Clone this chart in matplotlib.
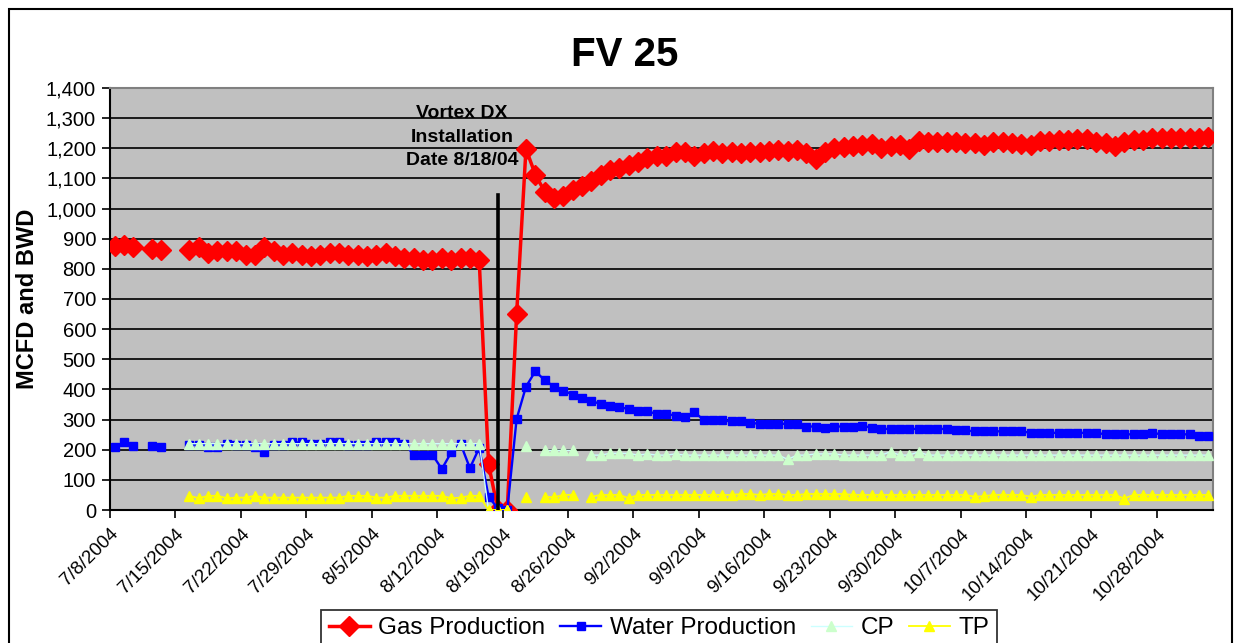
import matplotlib
matplotlib.use("Agg")
import matplotlib.pyplot as plt
import matplotlib.patches as mpatches
import numpy as np
import pandas as pd

plt.rcParams['font.family'] = ['Liberation Sans', 'DejaVu Sans']

N = None
start_date = "2004-07-08"
n_days = 118

gas = [877, 880, 874, N, 865, 863, N, N,
       861, 872, 854, 858, 858, 858, 847, 847, 872, 858, 847, 852, 847, 841, 847, 852,
       852, 847, 847, 841, 847, 852, 841, 836, 836, 830, 830, 836, 830, 836, 836, 828,
       152, 0, 0, 649, 1198, 1113, 1056, 1036, 1041, 1060, 1074, 1093, 1113, 1129, 1134,
       1145, 1154, 1167, 1173, 1176, 1187, 1187, 1173, 1184, 1191, 1184, 1187, 1184, 1189,
       1187, 1191, 1195, 1191, 1195, 1184, 1165, 1187, 1200, 1205,
       1206, 1212, 1214, 1201, 1206, 1212, 1198, 1223, 1220, 1220, 1220, 1220, 1217, 1217,
       1212, 1220, 1220, 1217, 1214, 1212, 1223, 1223, 1226, 1228, 1231, 1231, 1220, 1217,
       1209, 1220, 1228, 1226, 1234, 1234, 1234, 1234, 1234, 1234, 1237]

water = [209, 224, 213, N, 213, 209, N, N,
         217, 217, 209, 209, 220, 217, 217, 209, 191, 217, 217, 224, 224, 220, 220, 224,
         224, 217, 217, 217, 224, 224, 224, 220, 183, 183, 183, 136, 191, 220, 139, 206,
         44, 5, 0, 302, 409, 460, 431, 409, 396, 383, 371, 361, 352, 344, 341,
         335, 327, 327, 319, 319, 313, 310, 324, 300, 300, 297, 294, 294, 289,
         286, 286, 286, 286, 286, 277, 277, 272, 277, 277,
         276, 280, 272, 269, 269, 269, 269, 269, 269, 269, 269, 264, 264, 261,
         261, 261, 261, 261, 261, 256, 256, 256, 256, 256, 256, 256, 256, 251,
         251, 251, 251, 251, 256, 251, 251, 251, 251, 247, 247]

cp = [N, N, N, N, N, N, N, N,
      220, 220, 220, 220, 220, 220, 220, 220, 220, 220, 220, 220, 220, 220, 220, 220,
      220, 220, 220, 220, 220, 220, 220, 220, 220, 220, 220, 220, 220, 220, 220, 220,
      0, 0, 0, N, 211, N, 198, 198, 198, 198, N, 182, 182, 188, 188,
      188, 182, 186, 182, 182, 186, 182, 182, 182, 182, 182, 182, 182, 182,
      182, 182, 182, 168, 182, 182, 186, 186, 186, 182,
      182, 182, 182, 182, 193, 182, 182, 193, 182, 182, 182, 182, 182, 182,
      182, 182, 182, 182, 182, 182, 182, 182, 182, 182, 182, 182, 182, 182,
      182, 182, 182, 182, 182, 182, 182, 182, 182, 182, 182]

tp = [N, N, N, N, N, N, N, N,
      47, 39, 47, 47, 39, 41, 41, 47, 41, 41, 41, 41, 41, 41, 41, 41,
      41, 47, 47, 47, 41, 41, 47, 47, 47, 47, 47, 47, 39, 41, 47, 47,
      0, 0, 0, N, 44, N, 44, 42, 50, 50, N, 44, 50, 50, 50,
      39, 50, 50, 50, 50, 50, 50, 50, 50, 50, 50, 50, 53, 53,
      50, 53, 53, 50, 50, 53, 53, 53, 53, 53,
      50, 50, 50, 50, 50, 50, 50, 50, 50, 50, 50, 50, 50, 44,
      46, 50, 50, 50, 50, 44, 50, 50, 50, 50, 50, 50, 50, 50,
      50, 38, 50, 50, 50, 50, 50, 50, 50, 50, 50]

tick_labels = ["7/8/2004", "7/15/2004", "7/22/2004", "7/29/2004", "8/5/2004",
               "8/12/2004", "8/19/2004", "8/26/2004", "9/2/2004", "9/9/2004",
               "9/16/2004", "9/23/2004", "9/30/2004", "10/7/2004", "10/14/2004",
               "10/21/2004", "10/28/2004"]
y_ticks = [0, 100, 200, 300, 400, 500, 600, 700, 800, 900, 1000, 1100, 1200, 1300, 1400]
install_date = "2004-08-18"
install_line_top = 1045

title = "FV 25"
ylabel = "MCFD and BWD"
annotation = "Vortex DX\nInstallation\nDate 8/18/04"

def arr(v):
    return np.array([np.nan if a is None else a for a in v], dtype=float)

dates = pd.date_range(start_date, periods=n_days, freq="D")
xpts = dates + pd.Timedelta(hours=12)

W, H = 1243, 643
fig = plt.figure(figsize=(W / 100, H / 100), dpi=100)
fig.patch.set_facecolor("white")

ax = fig.add_axes([110 / W, 1 - 510 / H, (1213 - 110) / W, (510 - 88) / H])
ax.set_facecolor("#C0C0C0")

ax.plot(xpts, arr(gas), color="#FF0000", lw=2.5, marker="D", ms=10.5,
        mfc="#FF0000", mec="#FF0000", label="Gas Production", zorder=3)
ax.plot(xpts, arr(water), color="#0000FF", lw=1.7, marker="s", ms=6,
        mfc="#0000FF", mec="#0000FF", label="Water Production", zorder=4)
ax.plot(xpts, arr(cp), color="#CCFFFF", lw=1.0, marker="^", ms=7,
        mfc="#CCFFCC", mec="#CCFFCC", label="CP", zorder=5)
ax.plot(xpts, arr(tp), color="#FFFF00", lw=1.3, marker="^", ms=7,
        mfc="#FFFF00", mec="#FFFF00", label="TP", zorder=6)

ix = pd.Timestamp(install_date) + pd.Timedelta(hours=12)
ax.plot([ix, ix], [0, install_line_top], color="black", lw=2.6, zorder=7)

ax.set_ylim(0, 1400)
ax.set_xlim(dates[0], dates[-1] + pd.Timedelta(days=1))
ax.set_yticks(y_ticks)
ax.set_yticklabels([f"{v:,}" for v in y_ticks], fontsize=14.5)
tick_pos = [pd.Timestamp(start_date) + pd.Timedelta(days=7 * i) for i in range(len(tick_labels))]
ax.set_xticks(tick_pos)
ax.set_xticklabels(tick_labels, rotation=45, ha="right", va="top",
                   rotation_mode="anchor", fontsize=13.5)
ax.tick_params(axis="both", direction="out", length=6, width=1.2, color="black")
ax.tick_params(axis="x", pad=5)
ax.tick_params(axis="y", pad=4)

ax.yaxis.grid(True, color="#1a1a1a", lw=1.4)
ax.set_axisbelow(True)
for s in ["top", "right"]:
    ax.spines[s].set_color("#808080")
    ax.spines[s].set_linewidth(1.5)
for s in ["left", "bottom"]:
    ax.spines[s].set_color("black")
    ax.spines[s].set_linewidth(1.5)

ax.set_ylabel(ylabel, fontsize=17, fontweight="bold", labelpad=5)
fig.text(625 / W, 1 - 55 / H, title, fontsize=29, fontweight="bold",
         ha="center", va="center")
ax.text(462 / W, 1 - 137 / H, annotation, transform=fig.transFigure,
        fontsize=14, fontweight="bold", ha="center", va="center",
        linespacing=1.5, zorder=8)

leg = fig.legend(loc="upper center", bbox_to_anchor=(659 / W, 1 - 610 / H),
                 ncol=4, fontsize=17.5, frameon=True, fancybox=False,
                 edgecolor="black", handlelength=1.7, handletextpad=0.35,
                 columnspacing=0.6, borderpad=0.3, borderaxespad=0)
leg.get_frame().set_linewidth(1.3)

border = mpatches.Rectangle((9 / W, -0.2), (1232 - 9) / W, 1.2 - 9 / H,
                            transform=fig.transFigure, fill=False,
                            edgecolor="black", lw=1.5)
fig.add_artist(border)

fig.savefig("out.png", dpi=100)
